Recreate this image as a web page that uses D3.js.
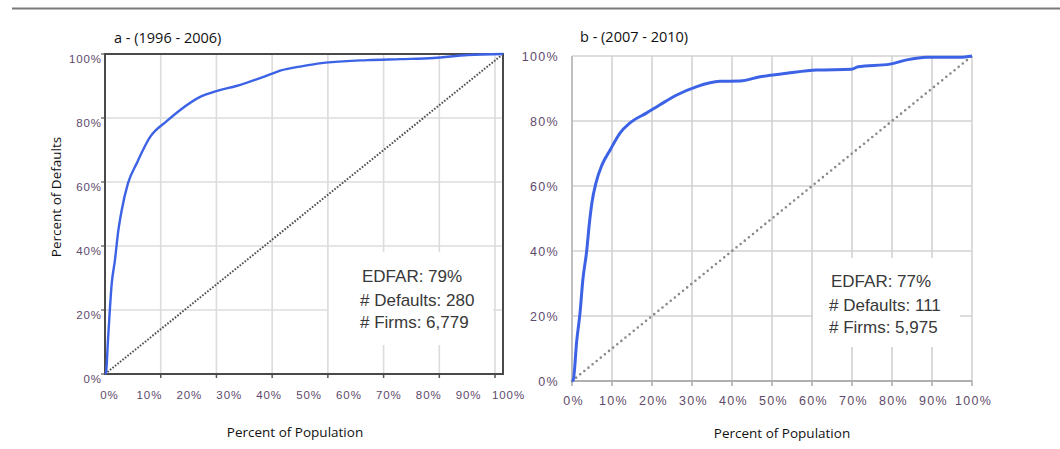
<!DOCTYPE html>
<html>
<head>
<meta charset="utf-8">
<script src="https://cdn.jsdelivr.net/npm/d3@7"></script>
<style>
  html, body { margin: 0; padding: 0; background: #fff; }
  svg { display: block; }
  .ttl { font-family: "Open Sans", "Noto Sans", sans-serif; font-size: 14.5px; fill: #111; }
  .axt { font-family: "Open Sans", "Noto Sans", sans-serif; font-size: 13.5px; fill: #111; }
  .tkA text { font-family: "Liberation Sans", Arial, sans-serif; font-size: 11.5px; fill: #5e4a6c; letter-spacing: 0.9px; }
  .tkB text { font-family: "Liberation Sans", Arial, sans-serif; font-size: 12.5px; fill: #5e4a6c; letter-spacing: 1.3px; }
  .stat { font-family: "Liberation Sans", Arial, sans-serif; font-size: 17px; fill: #383838; }
</style>
</head>
<body>
<svg id="chart" width="1060" height="449"></svg>
<script>
// Cumulative accuracy profiles: percent of population vs percent of defaults captured
const popA = [0, 0.25, 0.75, 1.7, 2.5, 3.3, 4.2, 5.8, 8, 11.3, 15.5, 18.9, 23.9, 28.2, 33, 40.8, 44, 50, 53.4, 66, 74.3, 82.6, 91.2, 100];
const defA = [0, 0.3, 10.6, 28.4, 35.6, 44.4, 51.2, 59.7, 65.9, 74, 79, 82.5, 86.6, 88.5, 90.0, 93.3, 94.8, 96.3, 97.0, 98.1, 98.4, 98.75, 99.7, 100];

const popB = [0, 0.3, 1.2, 2, 2.7, 3.7, 4.3, 5, 6, 7.5, 9.5, 12, 14.5, 18.7, 22, 26.2, 31.2, 37, 42, 47, 53.7, 61.2, 69.9, 71.5, 79.5, 83.7, 88.7, 97, 100];
const defB = [0, 0.3, 12.6, 20.9, 31, 40.3, 48, 55, 61, 66.5, 71, 76.3, 79.4, 82.5, 85, 88, 90.6, 92.2, 92.3, 93.6, 94.7, 95.7, 95.9, 96.7, 97.5, 98.8, 99.6, 99.6, 100];

const xTicks = [0, 10, 20, 30, 40, 50, 60, 70, 80, 90, 100];
const yTicks = [0, 20, 40, 60, 80, 100];
const gridA = [14, 28, 42, 56, 70, 84, 98];

const titleA = "a - (1996 - 2006)";
const titleB = "b - (2007 - 2010)";
const statsA = ["EDFAR: 79%", "# Defaults: 280", "# Firms: 6,779"];
const statsB = ["EDFAR: 77%", "# Defaults: 111", "# Firms: 5,975"];

const blue = "#3c63e6";
const svg = d3.select("#chart");
const fmt = d => d + "%";

// top rule
svg.append("line").attr("x1", 12).attr("x2", 1060).attr("y1", 8.5).attr("y2", 8.5)
  .attr("stroke", "#7a7a7a").attr("stroke-width", 2);

// ---------- Panel a ----------
{
  const x = d3.scaleLinear().domain([0, 100]).range([105, 503]);
  const xl = d3.scaleLinear().domain([0, 100]).range([109, 508]);
  const y = d3.scaleLinear().domain([0, 100]).range([374, 54]);
  const g = svg.append("g");

  // grid
  g.selectAll(".vg").data(gridA).join("line")
    .attr("x1", d => x(d)).attr("x2", d => x(d)).attr("y1", y(0)).attr("y2", y(100))
    .attr("stroke", "#dcdcdc").attr("stroke-width", 1.6);
  g.selectAll(".hg").data(yTicks.slice(1, 5)).join("line")
    .attr("x1", x(0)).attr("x2", x(100)).attr("y1", d => y(d)).attr("y2", d => y(d))
    .attr("stroke", "#dcdcdc").attr("stroke-width", 1.6);

  // stats box backdrop
  g.append("rect").attr("x", 329).attr("y", 252).attr("width", 164).attr("height", 93).attr("fill", "#fff");

  // bottom tick marks
  g.selectAll(".bt").data(gridA).join("line")
    .attr("x1", d => x(d)).attr("x2", d => x(d)).attr("y1", y(0)).attr("y2", y(0) + 4)
    .attr("stroke", "#555").attr("stroke-width", 1.5);
  // left tick marks
  g.selectAll(".lt").data(yTicks).join("line")
    .attr("x1", x(0) - 4).attr("x2", x(0)).attr("y1", d => y(d)).attr("y2", d => y(d))
    .attr("stroke", "#555").attr("stroke-width", 1.2);

  // frame
  g.append("rect").attr("x", x(0)).attr("y", y(100)).attr("width", x(100) - x(0)).attr("height", y(0) - y(100))
    .attr("fill", "none").attr("stroke", "#4a4a4a").attr("stroke-width", 2);

  // diagonal
  g.append("line").attr("x1", x(0)).attr("y1", y(0)).attr("x2", x(100)).attr("y2", y(100))
    .attr("stroke", "#4f4f4f").attr("stroke-width", 2).attr("stroke-dasharray", "1.6,1.6");

  // curve
  const line = d3.line().x((d, i) => x(popA[i])).y((d, i) => y(defA[i])).curve(d3.curveMonotoneX);
  g.append("path").datum(defA).attr("d", line).attr("fill", "none")
    .attr("stroke", blue).attr("stroke-width", 2.4);

  // axis labels
  const ax = g.append("g").attr("class", "tkA").attr("transform", `translate(0,${y(0) + 14})`)
    .call(d3.axisBottom(xl).tickValues(xTicks).tickFormat(fmt).tickSize(0));
  ax.select(".domain").remove();
  const ay = g.append("g").attr("class", "tkA").attr("transform", `translate(${x(0) - 3},5)`)
    .call(d3.axisLeft(y).tickValues(yTicks).tickFormat(fmt).tickSize(0).tickPadding(0));
  ay.select(".domain").remove();

  g.append("text").attr("class", "ttl").attr("x", 114).attr("y", 43).text(titleA);
  g.append("text").attr("class", "axt").attr("x", 295).attr("y", 437).attr("text-anchor", "middle").text("Percent of Population");
  g.append("text").attr("class", "axt").attr("transform", "translate(61,197) rotate(-90)")
    .attr("text-anchor", "middle").text("Percent of Defaults");

  g.selectAll(".st").data(statsA).join("text").attr("class", "stat")
    .attr("x", (d, i) => i === 0 ? 362 : 360).attr("y", (d, i) => [282, 306, 328][i]).text(d => d);
}

// ---------- Panel b ----------
{
  const x = d3.scaleLinear().domain([0, 100]).range([572, 972]);
  const y = d3.scaleLinear().domain([0, 100]).range([381, 56]);
  const g = svg.append("g");

  g.selectAll(".vg").data(xTicks.slice(1)).join("line")
    .attr("x1", d => x(d)).attr("x2", d => x(d)).attr("y1", y(0)).attr("y2", y(100))
    .attr("stroke", "#d2d2d2").attr("stroke-width", 1.6);
  g.selectAll(".hg").data(yTicks.slice(1)).join("line")
    .attr("x1", x(0)).attr("x2", x(100)).attr("y1", d => y(d)).attr("y2", d => y(d))
    .attr("stroke", "#d2d2d2").attr("stroke-width", 1.6);

  g.append("rect").attr("x", 813).attr("y", 258).attr("width", 147).attr("height", 89).attr("fill", "#fff");

  g.selectAll(".bt").data(xTicks).join("line")
    .attr("x1", d => x(d)).attr("x2", d => x(d)).attr("y1", y(0)).attr("y2", y(0) + 5)
    .attr("stroke", "#aaa").attr("stroke-width", 1.5);
  g.append("line").attr("x1", x(0)).attr("x2", x(100)).attr("y1", y(0)).attr("y2", y(0))
    .attr("stroke", "#b0b0b0").attr("stroke-width", 1.8);
  g.append("line").attr("x1", x(0)).attr("x2", x(0)).attr("y1", y(0)).attr("y2", y(100))
    .attr("stroke", "#b8b8b8").attr("stroke-width", 1.8);

  g.append("line").attr("x1", x(0)).attr("y1", y(0)).attr("x2", x(100)).attr("y2", y(100))
    .attr("stroke", "#8a8a8a").attr("stroke-width", 2.6).attr("stroke-linecap", "round")
    .attr("stroke-dasharray", "0,5.3");

  const line = d3.line().x((d, i) => x(popB[i])).y((d, i) => y(defB[i])).curve(d3.curveMonotoneX);
  g.append("path").datum(defB).attr("d", line).attr("fill", "none")
    .attr("stroke", blue).attr("stroke-width", 3);

  const ax = g.append("g").attr("class", "tkB").attr("transform", `translate(1,${y(0) + 12})`)
    .call(d3.axisBottom(x).tickValues(xTicks).tickFormat(fmt).tickSize(0));
  ax.select(".domain").remove();
  const ay = g.append("g").attr("class", "tkB").attr("transform", `translate(${x(0) - 13},0)`)
    .call(d3.axisLeft(y).tickValues(yTicks).tickFormat(fmt).tickSize(0).tickPadding(0));
  ay.select(".domain").remove();

  g.append("text").attr("class", "ttl").attr("x", 580).attr("y", 42).text(titleB);
  g.append("text").attr("class", "axt").attr("x", 782).attr("y", 438).attr("text-anchor", "middle").text("Percent of Population");

  g.selectAll(".st").data(statsB).join("text").attr("class", "stat")
    .attr("x", (d, i) => i === 0 ? 831 : 829).attr("y", (d, i) => [287, 311, 333][i]).text(d => d);
}
</script>
</body>
</html>
